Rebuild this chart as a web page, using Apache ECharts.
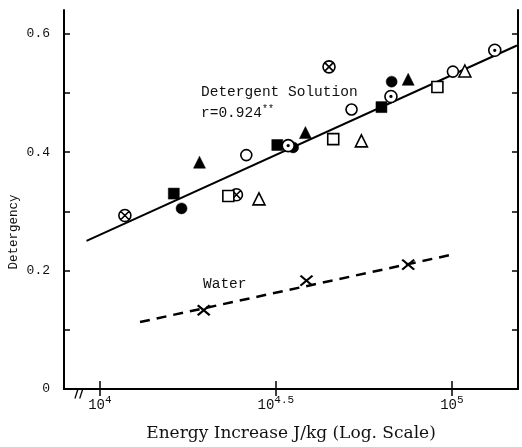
<!DOCTYPE html>
<html>
<head>
<meta charset="utf-8">
<script src="https://cdn.jsdelivr.net/npm/echarts@6/dist/echarts.min.js"></script>
<style>
html,body{margin:0;padding:0;background:#fff;}
#chart{width:522px;height:447px;}
</style>
</head>
<body>
<div id="chart"></div>
<script>
// x values are log10(Energy increase, J/kg); y values are detergency
const xTickValues = [4, 4.5, 5];
const xTickExponents = ['4', '4.5', '5'];
const yTickValues = [0, 0.1, 0.2, 0.3, 0.4, 0.5, 0.6];
const yLabelValues = [0, 0.2, 0.4, 0.6];
const yLabelTexts = ['0', '0.2', '0.4', '0.6'];

const crossCircle    = [[4.071, 0.293], [4.388, 0.328], [4.651, 0.544]];
const filledSquare   = [[4.210, 0.330], [4.504, 0.412], [4.800, 0.476]];
const filledCircle   = [[4.232, 0.305], [4.549, 0.408], [4.829, 0.519]];
const filledTriangle = [[4.283, 0.383], [4.584, 0.433], [4.876, 0.523]];
const openSquare     = [[4.365, 0.326], [4.663, 0.422], [4.959, 0.510]];
const openTriangle   = [[4.452, 0.321], [4.743, 0.419], [5.037, 0.537]];
const openCircle     = [[4.416, 0.395], [4.715, 0.472], [5.003, 0.536]];
const dotCircle      = [[4.535, 0.411], [4.827, 0.494], [5.122, 0.572]];
const water          = [[4.295, 0.133], [4.587, 0.183], [4.876, 0.210]];

const detergentFit = [[3.962, 0.250], [5.185, 0.580]];
const waterFit     = [[4.114, 0.113], [5.009, 0.228]];

const MONO = 'Liberation Mono';
const PATH_CROSS = 'path://M0,10 A10,10 0 1,0 20,10 A10,10 0 1,0 0,10 Z M2.93,2.93 L17.07,17.07 M17.07,2.93 L2.93,17.07';
const PATH_DOT = 'path://M0,10 A10,10 0 1,0 20,10 A10,10 0 1,0 0,10 Z M8.6,10 A1.4,1.4 0 1,0 11.4,10 A1.4,1.4 0 1,0 8.6,10 Z';

function scatter(name, data, symbol, size, filled) {
  return {
    name, type: 'scatter', data, symbol, symbolSize: size,
    itemStyle: filled
      ? { color: '#000', borderColor: '#000', borderWidth: 0.5, opacity: 1 }
      : { color: '#fff', borderColor: '#000', borderWidth: 1.6, opacity: 1 },
    z: 5
  };
}

const chart = echarts.init(document.getElementById('chart'), null, { renderer: 'canvas' });
const yLabelMap = {};
yLabelValues.forEach((v, i) => { yLabelMap[Math.round(v * 10)] = yLabelTexts[i]; });
const xLabelMap = {};
xTickValues.forEach((v, i) => { xLabelMap[Math.round(v * 10)] = xTickExponents[i]; });

const axisLine = { show: true, lineStyle: { color: '#000', width: 2 } };

chart.setOption({
  animation: false,
  backgroundColor: '#fff',
  grid: { left: 64, right: 4, top: 10, bottom: 53 },
  xAxis: [
    {
      type: 'value', position: 'bottom', min: 3.898, max: 5.188,
      axisLine,
      splitLine: { show: false },
      axisTick: { inside: true, length: 8, customValues: xTickValues, lineStyle: { color: '#000', width: 1.5 } },
      axisLabel: {
        customValues: xTickValues, margin: 7,
        formatter: v => '{b|10}{s|' + xLabelMap[Math.round(v * 10)] + '}',
        rich: {
          b: { fontFamily: MONO, fontSize: 14, color: '#111', verticalAlign: 'bottom', lineHeight: 16 },
          s: { fontFamily: MONO, fontSize: 11, color: '#111', verticalAlign: 'bottom', lineHeight: 16, padding: [0, 0, 6, 0] }
        }
      },
      name: 'Energy Increase J/kg (Log. Scale)',
      nameLocation: 'middle', nameGap: 36,
      nameTextStyle: { fontFamily: 'DejaVu Serif', fontSize: 17, color: '#111' }
    },
    {
      type: 'value', position: 'top', min: 3.898, max: 5.188,
      axisLine,
      splitLine: { show: false },
      axisTick: { inside: true, length: 7, customValues: xTickValues, lineStyle: { color: '#000', width: 1.5 } },
      axisLabel: { show: false }
    }
  ],
  yAxis: [
    {
      type: 'value', position: 'left', min: 0, max: 0.64,
      axisLine,
      splitLine: { show: false },
      axisTick: { inside: true, length: 6, customValues: yTickValues, lineStyle: { color: '#000', width: 1.5 } },
      axisLabel: {
        customValues: yLabelValues, margin: 14,
        formatter: v => yLabelMap[Math.round(v * 10)],
        fontFamily: MONO, fontSize: 13, color: '#111'
      }
    },
    {
      type: 'value', position: 'right', min: 0, max: 0.64,
      axisLine,
      splitLine: { show: false },
      axisTick: { inside: true, length: 6, customValues: yTickValues, lineStyle: { color: '#000', width: 1.5 } },
      axisLabel: { show: false }
    }
  ],
  graphic: [
    { type: 'text', x: 14, y: 232, rotation: Math.PI / 2,
      style: { text: 'Detergency', fontFamily: MONO, fontSize: 12.5, fill: '#111', align: 'center', verticalAlign: 'middle' } },
    { type: 'text', x: 201, y: 92,
      style: { text: 'Detergent Solution', fontFamily: MONO, fontSize: 14.5, fill: '#111', align: 'left', verticalAlign: 'middle' } },
    { type: 'text', x: 201, y: 113,
      style: { text: '{a|r=0.924}{s|**}', fontFamily: MONO, fontSize: 14.5, fill: '#111', align: 'left', verticalAlign: 'middle',
        rich: { a: { fontFamily: MONO, fontSize: 14.5, fill: '#111', verticalAlign: 'bottom', lineHeight: 16 },
                s: { fontFamily: MONO, fontSize: 10, fill: '#111', verticalAlign: 'bottom', lineHeight: 16, padding: [0, 0, 7, 0] } } } },
    { type: 'text', x: 203, y: 284,
      style: { text: 'Water', fontFamily: MONO, fontSize: 14.5, fill: '#111', align: 'left', verticalAlign: 'middle' } },
    { type: 'text', x: 79, y: 394, z: 10,
      style: { text: '//', fontFamily: 'DejaVu Sans', fontSize: 13, fontWeight: 'bold', fill: '#000', align: 'center', verticalAlign: 'middle' } }
  ],
  series: [
    { name: 'Detergent fit', type: 'line', data: detergentFit, symbol: 'none', lineStyle: { color: '#000', width: 2 }, z: 2 },
    { name: 'Water fit', type: 'line', data: waterFit, symbol: 'none', lineStyle: { color: '#000', width: 2.5, type: [10, 7] }, z: 2 },
    scatter('crossCircle', crossCircle, PATH_CROSS, 12, false),
    scatter('filledSquare', filledSquare, 'rect', 11, true),
    scatter('filledCircle', filledCircle, 'circle', 11, true),
    scatter('filledTriangle', filledTriangle, 'triangle', 12, true),
    scatter('openSquare', openSquare, 'rect', 11, false),
    scatter('openTriangle', openTriangle, 'triangle', 12, false),
    scatter('openCircle', openCircle, 'circle', 11, false),
    scatter('dotCircle', dotCircle, PATH_DOT, 12, false),
    {
      name: 'Water', type: 'scatter', data: water,
      symbol: 'path://M0,0 L10,8 M10,0 L0,8', symbolSize: [12, 10],
      itemStyle: { color: '#000', borderColor: '#000', borderWidth: 2.2, opacity: 1 }, z: 5
    }
  ]
});
</script>
</body>
</html>
